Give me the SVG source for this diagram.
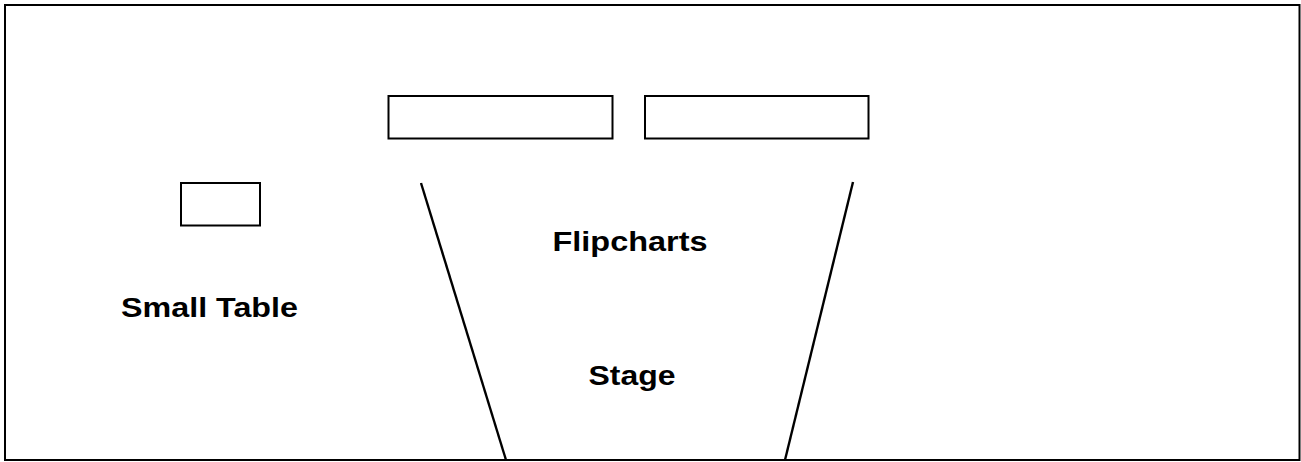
<svg xmlns="http://www.w3.org/2000/svg" width="1301" height="462" viewBox="0 0 1301 462">
<style>
.box{fill:#fff;stroke:#000;stroke-width:2}
.ln{stroke:#000;stroke-width:2.4;fill:none}
.lbl{font-family:"Liberation Sans",Arial,sans-serif;font-weight:bold;font-size:28px;fill:#000}
</style>
<rect x="0" y="0" width="1301" height="462" fill="#fff"/>
<rect id="frame" x="5" y="5" width="1294.5" height="455" class="box"/>
<g id="flipchart1"><rect x="388.5" y="96" width="224" height="42.5" class="box"/></g>
<g id="flipchart2"><rect x="645" y="96" width="223.5" height="42.5" class="box"/></g>
<g id="smalltable"><rect x="181" y="183" width="79" height="42.5" class="box"/></g>
<g id="stage">
<line x1="421" y1="183" x2="506" y2="460" class="ln"/>
<line x1="853" y1="182" x2="785" y2="460" class="ln"/>
</g>
<g id="labels">
<text x="121" y="317" class="lbl" textLength="177" lengthAdjust="spacingAndGlyphs">Small Table</text>
<text x="552.5" y="250.5" class="lbl" textLength="155" lengthAdjust="spacingAndGlyphs">Flipcharts</text>
<text x="588.5" y="385" class="lbl" textLength="87" lengthAdjust="spacingAndGlyphs">Stage</text>
</g>
</svg>
